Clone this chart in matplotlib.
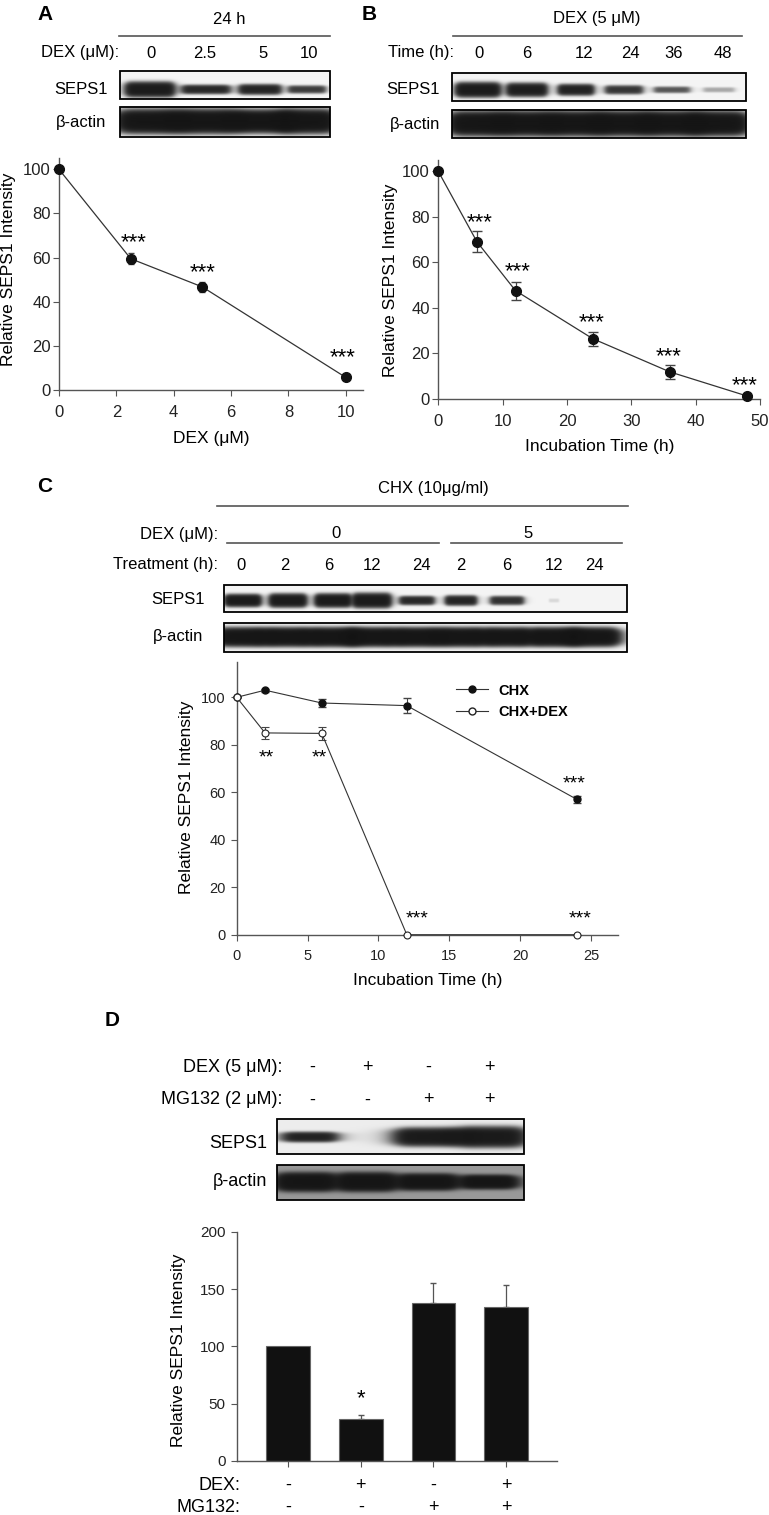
import numpy as np
import matplotlib
matplotlib.use("Agg")
import matplotlib.pyplot as plt
from matplotlib.patches import Rectangle
from matplotlib.lines import Line2D
import matplotlib.transforms as mtransforms

plt.rcParams['font.family'] = ['Liberation Sans', 'DejaVu Sans']

# ---- data: panel A (dose) ----
dex_dose = [0, 2.5, 5, 10]
dose_int = [100, 59.5, 46.7, 5.7]
dose_err = [0, 2.4, 2.1, 1.2]
dose_star_x = [2.6, 5.0, 9.9]
dose_star_y = [68.7, 54.8, 16.6]

# ---- data: panel B (time course) ----
time_h = [0, 6, 12, 24, 36, 48]
time_int = [100, 69.1, 47.6, 26.5, 11.9, 1.3]
time_err = [0, 4.5, 3.9, 3.0, 3.0, 0.4]
time_star_x = [6.4, 12.3, 23.9, 35.8, 47.6]
time_star_y = [79.2, 57.6, 35.4, 20.3, 7.6]

# ---- data: panel C (CHX chase) ----
chx_t = [0, 2, 6, 12, 24]
chx_int = [100, 103, 97.6, 96.5, 57]
chx_err = [0, 0.7, 1.8, 3.1, 1.4]
chxdex_int = [100, 85, 84.8, 0, 0]
chxdex_err = [0, 2.5, 2.7, 0, 0]
chx_star_x = [2.1, 5.8, 12.7, 24.2, 23.8]
chx_star_y = [76.2, 76.2, 8.3, 8.3, 65]
chx_star_txt = ['**', '**', '***', '***', '***']

# ---- data: panel D (MG132) ----
d_groups = [0, 1, 2, 3]
d_int = [100, 36.4, 137.5, 134.6]
d_err = [0, 4, 17.5, 18.6]
d_dex = ['-', '+', '-', '+']
d_mg = ['-', '-', '+', '+']

# ---- blot lane labels ----
a_lanes = ['0', '2.5', '5', '10']
b_lanes = ['0', '6', '12', '24', '36', '48']
c_lanes = ['0', '2', '6', '12', '24', '2', '6', '12', '24']

# band strength per lane (visual darkness)
a_seps = [1.0, 0.7, 0.75, 0.5]
b_seps = [1.0, 0.9, 0.8, 0.55, 0.35, 0.12]
c_seps = [1.0, 1.0, 1.0, 1.0, 0.7, 0.75, 0.6, 0.04, 0.0]
d_seps = [0.8, 0.0, 1.0, 1.0]

W, H = 769, 1515
fig = plt.figure(figsize=(W / 100, H / 100), dpi=100)
ov = fig.add_axes([0, 0, 1, 1])
ov.set_xlim(0, W)
ov.set_ylim(H, 0)
ov.axis('off')

AX_COL = '#555555'
LINE_COL = '#333333'


def px_axes(x0, x1, ytop, ybot):
    return fig.add_axes([x0 / W, 1 - ybot / H, (x1 - x0) / W, (ybot - ytop) / H])


def blot(box, centers, widths, strength, halfh, cy, bg=0.96, sharp=10, gain=3.5):
    x0, x1, y0, y1 = box
    s = 3
    nx, ny = int((x1 - x0) * s), int((y1 - y0) * s)
    X, Y = np.meshgrid(x0 + (np.arange(nx) + 0.5) / s, y0 + (np.arange(ny) + 0.5) / s)
    d = np.zeros_like(X)
    for c, w, k, h in zip(centers, widths, strength, halfh):
        if k <= 0 or w <= 0:
            continue
        px = 1 / (1 + np.abs((X - c) / (w / 2)) ** sharp)
        py = np.exp(-np.abs((Y - cy) / h) ** 3)
        d = d + k * px * py
    dark = 1 - np.exp(-gain * d)
    img = bg - (bg - 0.08) * dark
    ov.imshow(img, cmap='gray', vmin=0, vmax=1, extent=(x0, x1, y1, y0),
              aspect='auto', interpolation='bilinear', zorder=1)
    ov.add_patch(Rectangle((x0, y0), x1 - x0, y1 - y0, fill=False, lw=1.3,
                           ec='black', zorder=2))


def hline(x0, x1, y):
    ov.plot([x0, x1], [y, y], color=AX_COL, lw=1.2)


def style(ax, fs=11):
    for sp in ['top', 'right']:
        ax.spines[sp].set_visible(False)
    for sp in ['left', 'bottom']:
        ax.spines[sp].set_color(AX_COL)
        ax.spines[sp].set_linewidth(1.0)
    ax.tick_params(colors=AX_COL, labelcolor='#222222', labelsize=fs, length=4)
    ax.patch.set_alpha(0)


def stars(ax, xs, ys, texts, fs):
    tr = mtransforms.offset_copy(ax.transData, fig=fig, y=-4, units='dots')
    for x, y, t in zip(xs, ys, texts):
        ax.text(x, y, t, fontsize=fs, ha='center', va='center', transform=tr)


# ================= Panel A =================
ov.text(45, 14, 'A', fontsize=15, fontweight='bold', ha='center', va='center')
ov.text(229, 19, '24 h', fontsize=12, ha='center', va='center')
hline(119, 330, 36)
ov.text(119, 53, 'DEX (μM):', fontsize=12, ha='right', va='center')
for x, t in zip([151, 205, 263, 309], a_lanes):
    ov.text(x, 53, t, fontsize=12, ha='center', va='center')
ov.text(108, 89, 'SEPS1', fontsize=12, ha='right', va='center')
ov.text(106, 123, 'β-actin', fontsize=12, ha='right', va='center')
blot((120, 330, 70.5, 99), [150, 206, 260, 307], [46, 46, 40, 36], a_seps,
     [6.5, 4, 4.5, 3.5], 89.5)
blot((120, 330, 107, 136.5), [150, 206, 260, 307], [60, 60, 56, 52], [1, 1, 1, 1],
     [10, 10, 9.5, 10], 122, sharp=6, gain=4.5)

axA = px_axes(59, 363, 158.3, 390)
axA.errorbar(dex_dose, dose_int, yerr=dose_err, fmt='-o', color=LINE_COL, lw=0.9,
             mfc='#111111', mec='#111111', ms=7, ecolor='#444444', elinewidth=0.9,
             capsize=2.5, clip_on=False, zorder=3)
stars(axA, dose_star_x, dose_star_y, ['***'] * 3, 16)
axA.set_xlim(0, 10.6)
axA.set_ylim(0, 105)
axA.set_xticks([0, 2, 4, 6, 8, 10])
axA.set_yticks([0, 20, 40, 60, 80, 100])
style(axA, 12)
axA.tick_params(axis='x', pad=7)
axA.tick_params(axis='y', pad=2)
ov.text(9, 269, 'Relative SEPS1 Intensity', fontsize=12.5, rotation=90, ha='center', va='center')
ov.text(211, 438, 'DEX (μM)', fontsize=12.5, ha='center', va='center')

# ================= Panel B =================
ov.text(369, 14, 'B', fontsize=15, fontweight='bold', ha='center', va='center')
ov.text(597, 19, 'DEX (5 μM)', fontsize=12, ha='center', va='center')
hline(453, 742, 36)
ov.text(454, 53, 'Time (h):', fontsize=12, ha='right', va='center')
for x, t in zip([479, 527, 584, 630, 674, 723], b_lanes):
    ov.text(x, 53, t, fontsize=12, ha='center', va='center')
ov.text(440, 89, 'SEPS1', fontsize=12, ha='right', va='center')
ov.text(440, 124, 'β-actin', fontsize=12, ha='right', va='center')
b_cent = [478, 527, 576, 624, 672, 719]
blot((452, 746, 72.7, 100.7), b_cent, [42, 38, 34, 36, 35, 31], b_seps,
     [6.5, 6, 5, 4, 3, 2.5], 89.5)
blot((452, 746, 110, 138.3), b_cent, [52] * 6, [1] * 6, [10] * 6, 124, sharp=6, gain=4.5)

axB = px_axes(438.3, 760, 160, 399)
axB.errorbar(time_h, time_int, yerr=time_err, fmt='-o', color=LINE_COL, lw=0.9,
             mfc='#111111', mec='#111111', ms=7, ecolor='#444444', elinewidth=0.9,
             capsize=3.5, clip_on=False, zorder=3)
stars(axB, time_star_x, time_star_y, ['***'] * 5, 16)
axB.set_xlim(0, 50)
axB.set_ylim(0, 105)
axB.set_xticks([0, 10, 20, 30, 40, 50])
axB.set_yticks([0, 20, 40, 60, 80, 100])
style(axB, 12)
axB.tick_params(axis='x', pad=7)
axB.tick_params(axis='y', pad=2)
ov.text(391, 280, 'Relative SEPS1 Intensity', fontsize=12.5, rotation=90, ha='center', va='center')
ov.text(600, 447, 'Incubation Time (h)', fontsize=12.5, ha='center', va='center')

# ================= Panel C =================
ov.text(45, 486, 'C', fontsize=15, fontweight='bold', ha='center', va='center')
ov.text(433, 488, 'CHX (10μg/ml)', fontsize=12, ha='center', va='center')
hline(217, 628, 506)
ov.text(218, 535, 'DEX (μM):', fontsize=12, ha='right', va='center')
ov.text(336, 533, '0', fontsize=12, ha='center', va='center')
ov.text(528, 533, '5', fontsize=12, ha='center', va='center')
hline(227, 439, 543)
hline(451, 622, 543)
ov.text(218, 565, 'Treatment (h):', fontsize=12, ha='right', va='center')
for x, t in zip([241, 285, 329, 372, 421, 461, 507, 554, 594], c_lanes):
    ov.text(x, 565, t, fontsize=12, ha='center', va='center')
ov.text(205, 599, 'SEPS1', fontsize=12, ha='right', va='center')
ov.text(203, 636, 'β-actin', fontsize=12, ha='right', va='center')
c_cent = [243, 288, 333, 372, 417, 461, 507, 554, 594]
blot((224, 627, 585, 612), c_cent, [34, 35, 34, 36, 33, 30, 32, 10, 10], c_seps,
     [5.5, 6, 6, 6.5, 4, 4.5, 4, 2, 2], 600.5)
blot((224, 627, 623, 652), c_cent, [46] * 9, [1] * 9, [8] * 9, 637, sharp=6, gain=4.5)

axC = px_axes(236.7, 618, 661.7, 934.7)
axC.errorbar(chx_t, chx_int, yerr=chx_err, fmt='-o', color=LINE_COL, lw=0.8,
             mfc='#111111', mec='#111111', ms=5, ecolor='#444444', elinewidth=0.8,
             capsize=2.8, clip_on=False, zorder=3, label='CHX')
axC.errorbar(chx_t, chxdex_int, yerr=chxdex_err, fmt='-o', color=LINE_COL, lw=0.8,
             mfc='white', mec='#222222', mew=0.8, ms=5, ecolor='#444444', elinewidth=0.8,
             capsize=2.8, clip_on=False, zorder=4, label='CHX+DEX')
stars(axC, chx_star_x, chx_star_y, chx_star_txt, 14)
axC.set_xlim(0, 26.9)
axC.set_ylim(0, 115)
axC.set_xticks([0, 5, 10, 15, 20, 25])
axC.set_yticks([0, 20, 40, 60, 80, 100])
style(axC, 10.5)
axC.tick_params(axis='x', pad=6)
axC.tick_params(axis='y', pad=4)
handles = [Line2D([], [], color=LINE_COL, lw=0.8, marker='o', ms=5, mfc='#111111', mec='#111111'),
           Line2D([], [], color=LINE_COL, lw=0.8, marker='o', ms=5, mfc='white', mec='#222222')]
axC.legend(handles, ['CHX', 'CHX+DEX'], loc='upper left', bbox_to_anchor=(0.575, 0.92),
           frameon=False, prop={'weight': 'bold', 'size': 10.5}, handlelength=2.2,
           handletextpad=0.7, borderpad=0, borderaxespad=0, labelspacing=0.5)
ov.text(186, 797, 'Relative SEPS1 Intensity', fontsize=12.5, rotation=90, ha='center', va='center')
ov.text(428, 981, 'Incubation Time (h)', fontsize=12.5, ha='center', va='center')

# ================= Panel D =================
ov.text(112, 1020, 'D', fontsize=15, fontweight='bold', ha='center', va='center')
ov.text(282, 1067, 'DEX (5 μM):', fontsize=13, ha='right', va='center')
ov.text(282, 1100, 'MG132 (2 μM):', fontsize=13, ha='right', va='center')
for x, a, b in zip([312, 367, 428, 489], d_dex, d_mg):
    ov.text(x, 1067, a, fontsize=13, ha='center', va='center')
    ov.text(x, 1100, b, fontsize=13, ha='center', va='center')
ov.text(267, 1143, 'SEPS1', fontsize=13, ha='right', va='center')
ov.text(267, 1182, 'β-actin', fontsize=13, ha='right', va='center')
blot((277, 524, 1119, 1154), [310, 367, 430, 491], [50, 0, 64, 62], d_seps,
     [4.5, 1, 8, 9], 1137, bg=0.93, sharp=6)
blot((277, 524, 1165, 1200), [306, 367, 428, 489], [54, 54, 54, 50], [1, 1, 1, 1],
     [8, 8, 7, 6], 1182, bg=0.6, sharp=6, gain=4.5)

axD = px_axes(236.7, 557, 1231.7, 1461)
axD.bar(d_groups, d_int, width=0.6, color='#111111', edgecolor='#666666', lw=0.8, zorder=2)
has_err = [i for i, e in enumerate(d_err) if e > 0]
axD.errorbar([d_groups[i] for i in has_err], [d_int[i] for i in has_err],
             yerr=[[0] * len(has_err), [d_err[i] for i in has_err]], fmt='none',
             ecolor='#555555', elinewidth=0.9, capsize=2.5, zorder=1)
stars(axD, [1], [57.5], ['*'], 16)
axD.set_xlim(-0.706, 3.70)
axD.set_ylim(0, 200)
axD.set_xticks(d_groups)
axD.set_xticklabels([])
axD.set_yticks([0, 50, 100, 150, 200])
style(axD, 11)
axD.tick_params(axis='y', pad=4)
tr = mtransforms.blended_transform_factory(axD.transData, ov.transData)
for g, a, b in zip(d_groups, d_dex, d_mg):
    axD.text(g, 1485, a, fontsize=13, ha='center', va='center', transform=tr)
    axD.text(g, 1507, b, fontsize=13, ha='center', va='center', transform=tr)
ov.text(240, 1485, 'DEX:', fontsize=13, ha='right', va='center')
ov.text(240, 1507, 'MG132:', fontsize=13, ha='right', va='center')
ov.text(179, 1350, 'Relative SEPS1 Intensity', fontsize=12.5, rotation=90, ha='center', va='center')

fig.savefig('out.png', dpi=100)
